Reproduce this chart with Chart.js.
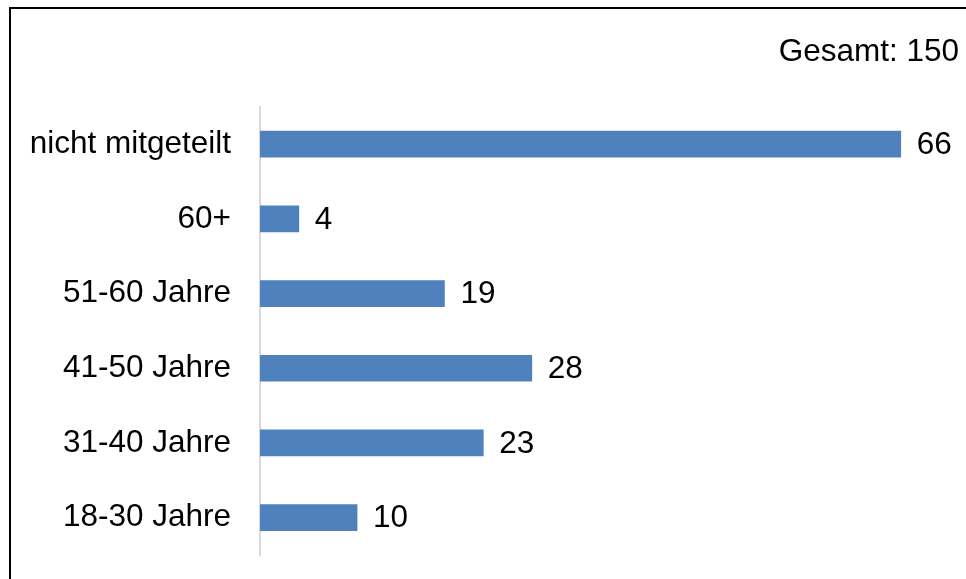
<!DOCTYPE html>
<html>
<head>
<meta charset="utf-8">
<script src="https://cdn.jsdelivr.net/npm/chart.js@4"></script>
<style>
  html, body { margin: 0; padding: 0; background: #fff; }
  #wrap { position: relative; width: 966px; height: 579px; overflow: hidden; }
  #frame {
    position: absolute; left: 9px; top: 7px; width: 1000px; height: 600px;
    border-left: 2px solid #000; border-top: 2px solid #000;
  }
  canvas { position: absolute; left: 0; top: 0; }
</style>
</head>
<body>
<div id="wrap">
  <div id="frame"></div>
  <canvas id="myChart" width="966" height="579"></canvas>
</div>
<script>
const categories = ["nicht mitgeteilt", "60+", "51-60 Jahre", "41-50 Jahre", "31-40 Jahre", "18-30 Jahre"];
const counts = [66, 4, 19, 28, 23, 10];
const totalLabel = "Gesamt: 150";
const xMax = 72;

const fontFamily = "'Liberation Sans', Arial, sans-serif";

// numbers right of each bar
const valueLabels = {
  id: "valueLabels",
  afterDatasetsDraw(chart) {
    const ctx = chart.ctx;
    const meta = chart.getDatasetMeta(0);
    ctx.save();
    ctx.font = "31.5px " + fontFamily;
    ctx.fillStyle = "#000";
    ctx.textAlign = "left";
    ctx.textBaseline = "middle";
    for (let i = 0; i < meta.data.length; i++) {
      const bar = meta.data[i];
      ctx.fillText(String(counts[i]), bar.x + 16, bar.y + 1);
    }
    ctx.restore();
  }
};

function renderChart() {
  const ctx = document.getElementById("myChart");

  new Chart(ctx, {
    type: "bar",
    data: {
      labels: categories,
      datasets: [
        {
          data: counts,
          backgroundColor: "#4F81BD",
          borderWidth: 0,
          barThickness: 26,
        },
      ],
    },
    options: {
      indexAxis: "y",
      responsive: false,
      animation: false,
      layout: { padding: { left: 0, right: 7, top: 0, bottom: 24 } },
      plugins: {
        legend: { display: false },
        tooltip: { enabled: false },
        title: {
          display: true,
          text: totalLabel,
          align: "end",
          color: "#000",
          font: { family: fontFamily, size: 31.5, weight: "normal" },
          padding: { top: 33, bottom: 36 },
        },
      },
      scales: {
        x: {
          display: false,
          min: 0,
          max: xMax,
        },
        y: {
          grid: { display: false, drawTicks: false },
          border: { display: true, color: "#D9D9D9", width: 2 },
          ticks: {
            color: "#000",
            padding: 29,
            font: { family: fontFamily, size: 31.5 },
          },
          afterFit(scale) {
            scale.width = 260;
            scale.paddingTop = 0;
            scale.paddingBottom = 0;
          },
        },
      },
    },
    plugins: [valueLabels],
  });
}

renderChart();
</script>
</body>
</html>
